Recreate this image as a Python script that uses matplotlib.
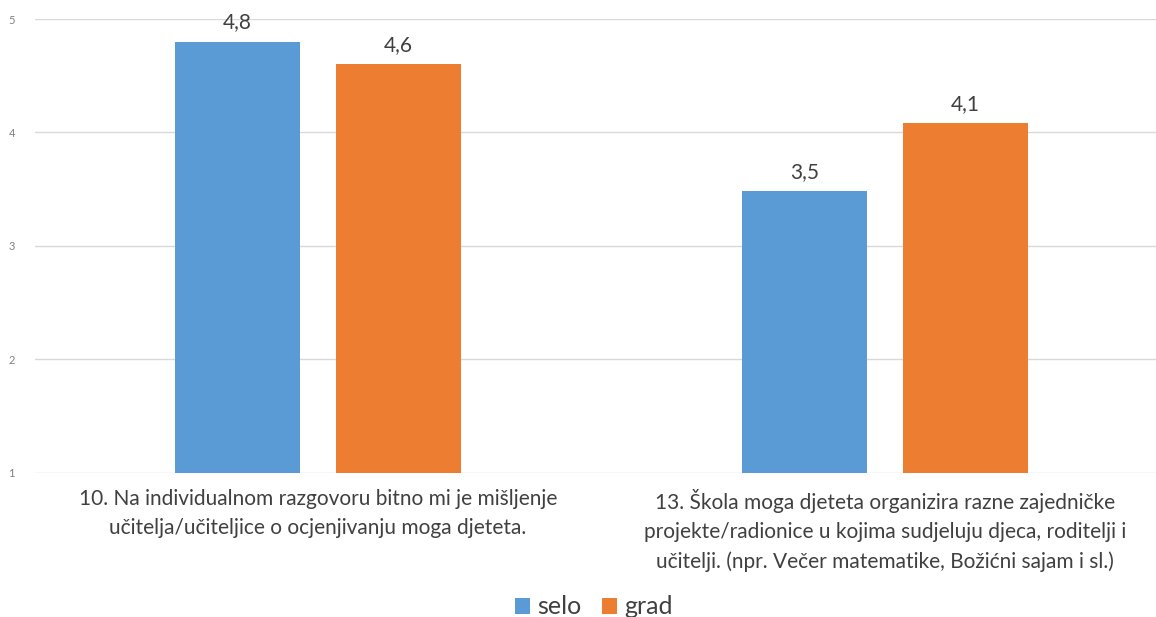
import matplotlib.pyplot as plt
import numpy as np

categories = [
    "10. Na individualnom razgovoru bitno mi je mišljenje\nučitelja/učiteljice o ocjenjivanju moga djeteta.",
    "13. Škola moga djeteta organizira razne zajedničke\nprojekte/radionice u kojima sudjeluju djeca, roditelji i\nučitelji. (npr. Večer matematike, Božićni sajam i sl.)",
]
series_names = ["selo", "grad"]
selo = [4.80, 3.48]
grad = [4.60, 4.08]
yticks = [1, 2, 3, 4, 5]

plt.rcParams['font.family'] = ['Lato', 'DejaVu Sans']

W, H = 1156, 617
fig = plt.figure(figsize=(W / 100, H / 100), dpi=100)
ax = fig.add_axes([34.5 / W, (H - 472.7) / H, (W - 34.5) / W, 453.7 / H])

x = np.arange(len(categories))
bw = 0.222
off = 0.142
c_selo = '#5B9BD5'
c_grad = '#ED7D31'
b1 = ax.bar(x - off, selo, bw, bottom=0, color=c_selo, label=series_names[0], zorder=3)
b2 = ax.bar(x + off, grad, bw, bottom=0, color=c_grad, label=series_names[1], zorder=3)

for bars, vals in ((b1, selo), (b2, grad)):
    for r, v in zip(bars, vals):
        ax.annotate(f"{v:.1f}".replace('.', ','), (r.get_x() + r.get_width() / 2, v),
                    xytext=(0, 7), textcoords='offset points', ha='center', va='bottom',
                    fontsize=15, color='#404040')

ax.set_ylim(1, 5)
ax.set_xlim(-0.5, 1.5 - 12.5 / 567)
ax.set_yticks(yticks)
ax.set_yticklabels([str(t) for t in yticks], fontsize=8, color='#808080')
ax.tick_params(axis='y', length=0, pad=14)
ax.tick_params(axis='x', length=0, pad=12)
ax.set_xticks(x)
ax.set_xticklabels(categories, fontsize=15, color='#404040', linespacing=1.55)
ax.grid(axis='y', color='#D9D9D9', lw=1, zorder=0)
for s in ax.spines.values():
    s.set_visible(False)

fig.legend(loc='center', bbox_to_anchor=(594 / W, 10 / H), ncol=2, frameon=False,
           fontsize=18, handlelength=0.6, handleheight=0.6, handletextpad=0.3,
           columnspacing=0.8, labelcolor='#404040')

fig.savefig('out.png', dpi=100)
